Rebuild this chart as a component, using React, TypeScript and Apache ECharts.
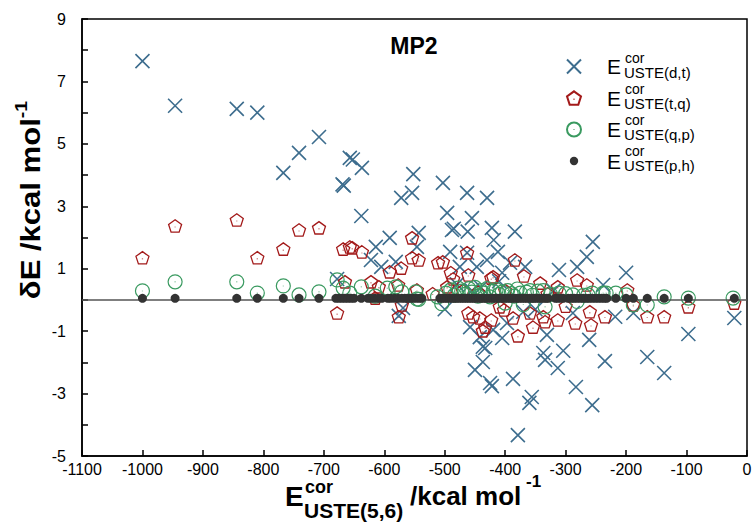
import React, { useEffect, useRef } from "react";
import * as echarts from "echarts";

const X_MIN = -1100;
const X_MAX = 0;
const X_STEP = 100;
const Y_MIN = -5;
const Y_MAX = 9;
const Y_STEP = 1;

const seriesNames = ["dt", "tq", "qp", "ph"];
const subLabels = ["USTE(d,t)", "USTE(t,q)", "USTE(q,p)", "USTE(p,h)"];

// E_USTE(d,t) corrections
const dtPoints: number[][] = [
  [-1000, 7.65], [-946, 6.22], [-844, 6.12], [-810, 6.0], [-767, 4.07], [-741, 4.71],
  [-708, 5.22], [-657, 4.55], [-652, 4.5], [-637, 4.23], [-669, 3.7], [-667, 3.66],
  [-638, 2.69], [-552, 4.03], [-554, 3.43], [-572, 3.27], [-503, 3.75], [-463, 3.43],
  [-430, 3.27], [-496, 2.79], [-455, 2.62], [-488, 2.24], [-485, 2.28], [-462, 2.19],
  [-422, 2.31], [-384, 2.19], [-419, 1.92], [-543, 2.15], [-591, 1.99], [-614, 1.7],
  [-546, 1.7], [-491, 1.54], [-412, 1.54], [-463, 1.51], [-430, 1.28], [-622, 1.28],
  [-605, 1.06], [-581, 1.22], [-678, 0.67], [-576, -0.51], [-569, -0.26], [-255, 1.86],
  [-265, 1.38], [-311, 0.96], [-281, 1.06], [-238, 0.48], [-200, 0.87], [-367, 1.06],
  [-475, 1.06], [-447, 1.06], [-405, 0.87], [-392, 1.19], [-458, -0.87], [-442, -1.19],
  [-437, -1.5], [-433, -1.54], [-437, -1.99], [-450, -2.24], [-425, -2.66], [-422, -2.76],
  [-387, -2.53], [-356, -3.11], [-360, -3.3], [-379, -4.33], [-405, -1.22], [-397, -0.74],
  [-420, -0.96], [-337, -1.7], [-334, -1.92], [-331, -1.12], [-304, -1.63], [-313, -2.18],
  [-283, -2.79], [-256, -3.37], [-261, -1.28], [-235, -1.96], [-288, -0.42], [-218, -0.54],
  [-370, -0.38], [-165, -1.83], [-137, -2.34], [-97, -1.09], [-21, -0.58], [-188, -0.42],
  [-480, 0.5], [-440, 0.4], [-350, -0.3], [-320, 0.3], [-410, 0.6], [-500, -0.3], [-455, 0.3],
];

// E_USTE(t,q) corrections
const tqPoints: number[][] = [
  [-1000, 1.35], [-946, 2.37], [-844, 2.56], [-810, 1.35], [-767, 1.63], [-741, 2.24],
  [-708, 2.31], [-668, 1.63], [-657, 1.7], [-653, 1.67], [-637, 1.54], [-554, 1.99],
  [-554, 1.35], [-543, 1.28], [-591, 0.9], [-572, 1.02], [-511, 1.19], [-665, 0.58],
  [-622, 0.58], [-678, -0.42], [-609, 0.42], [-577, 0.48], [-546, 0.32], [-571, -0.16],
  [-576, -0.54], [-615, 0.06], [-503, 1.22], [-490, 0.87], [-486, 0.67], [-463, 1.51],
  [-461, 0.8], [-496, 0.42], [-420, 0.74], [-423, 0.7], [-384, 1.28], [-369, 0.77],
  [-461, -0.42], [-453, -0.54], [-442, -0.58], [-423, -0.64], [-433, -0.87], [-437, -0.99],
  [-387, -0.58], [-379, -1.15], [-354, -0.87], [-402, -0.32], [-409, -0.22], [-359, -0.42],
  [-334, -0.7], [-337, -0.54], [-313, 0.42], [-281, 0.64], [-265, 0.48], [-342, 0.54],
  [-313, -0.64], [-284, -0.74], [-260, -0.38], [-258, -0.8], [-235, -0.54], [-198, 0.32],
  [-165, -0.54], [-137, -0.54], [-97, -0.22], [-21, -0.1], [-188, -0.16], [-470, 0.3],
  [-445, 0.25], [-400, 0.3], [-330, 0.2], [-300, -0.2], [-520, 0.2],
];

// E_USTE(q,p) corrections
const qpPoints: number[][] = [
  [-1000, 0.29], [-946, 0.58], [-844, 0.58], [-810, 0.22], [-767, 0.45], [-741, 0.16],
  [-708, 0.26], [-678, 0.64], [-668, 0.38], [-657, 0.22], [-638, 0.42], [-615, 0.12],
  [-595, 0.38], [-581, 0.42], [-571, 0.26], [-548, 0.26], [-546, 0.03], [-543, 0.02],
  [-512, 0.1], [-505, -0.12], [-498, 0.22], [-490, 0.32], [-484, 0.15], [-478, 0.38],
  [-472, 0.28], [-466, 0.18], [-460, 0.36], [-455, 0.25], [-450, 0.4], [-445, 0.12],
  [-440, 0.3], [-436, 0.22], [-430, 0.36], [-425, 0.1], [-420, 0.28], [-415, 0.33],
  [-410, 0.18], [-405, 0.25], [-400, -0.1], [-396, 0.3], [-390, 0.2], [-385, 0.12],
  [-380, 0.35], [-375, 0.22], [-370, -0.15], [-365, 0.25], [-359, 0.3], [-355, 0.15],
  [-346, 0.28], [-337, 0.3], [-334, -0.22], [-325, 0.18], [-311, 0.22], [-300, 0.2],
  [-288, 0.16], [-281, -0.05], [-270, 0.15], [-263, 0.16], [-256, 0.22], [-238, 0.22],
  [-233, 0.22], [-217, 0.22], [-200, 0.16], [-188, -0.16], [-165, -0.16], [-137, 0.1],
  [-97, 0.06], [-23, 0.06],
];

// E_USTE(p,h) corrections
const phX: number[] = [
  -1000, -946, -844, -810, -767, -741, -708, -680, -675, -670, -665, -660, -655, -650,
  -638, -627, -622, -616, -610, -604, -594, -589, -583, -577, -571, -566, -562, -557,
  -552, -547, -542, -538, -508, -504, -500, -496, -492, -488, -484, -480, -476, -472,
  -468, -464, -460, -456, -452, -448, -444, -440, -436, -432, -428, -424, -420, -416,
  -412, -408, -404, -400, -396, -392, -388, -384, -380, -376, -372, -368, -364, -360,
  -356, -352, -348, -344, -340, -336, -332, -329, -317, -313, -308, -304, -296, -291,
  -286, -281, -276, -271, -266, -261, -256, -251, -246, -241, -236, -232, -217, -200,
  -188, -165, -137, -97, -21,
];
const phY: number[] = phX.map(() => 0.05);
const phPoints: number[][] = phX.map((x, i) => [x, phY[i]]);

const COLORS = {
  dt: "#3d6d8e",
  tq: "#a31a1a",
  qp: "#3a9a60",
  ph: "#333333",
};

const FONT = "'Liberation Sans', Arial, sans-serif";

const crossPath = "path://M0,0L10,10M10,0L0,10";
const pentPath =
  "path://M0,-1L0.951,-0.309L0.588,0.809L-0.588,0.809L-0.951,-0.309ZM0,0.02L0,0.1";
const ringPath =
  "path://M0,-1A1,1 0 1,1 0,1A1,1 0 1,1 0,-1ZM0,-0.03L0,0.05";
const dotLegendPath =
  "path://M-1,-1M1,1M0,-0.6A0.6,0.6 0 1,1 0,0.6A0.6,0.6 0 1,1 0,-0.6Z";

export default function App() {
  const ref = useRef<HTMLDivElement>(null);

  useEffect(() => {
    if (!ref.current) return;
    const chart = echarts.init(ref.current, null, { renderer: "svg" });

    const rows = [67, 98, 129, 160];
    const legendTexts: any[] = [];
    rows.forEach((c, i) => {
      legendTexts.push({
        type: "text",
        x: 625,
        y: c - 9.5,
        style: {
          text: "cor",
          font: `14px ${FONT}`,
          fill: "#000",
          align: "left",
          verticalAlign: "middle",
        },
      });
      legendTexts.push({
        type: "text",
        x: 624,
        y: c + 5.5,
        style: {
          text: subLabels[i],
          font: `15px ${FONT}`,
          fill: "#000",
          align: "left",
          verticalAlign: "middle",
        },
      });
    });

    const option: any = {
      animation: false,
      backgroundColor: "#fff",
      grid: {
        left: 82,
        right: 9,
        top: 19,
        bottom: 67,
        show: true,
        borderColor: "#000",
        borderWidth: 1.5,
        backgroundColor: "transparent",
      },
      xAxis: {
        type: "value",
        min: X_MIN,
        max: X_MAX,
        interval: X_STEP,
        axisLine: { show: true, onZero: false, lineStyle: { color: "#000", width: 1.5 } },
        axisTick: { show: true, inside: true, length: 6, lineStyle: { color: "#000", width: 1.5 } },
        axisLabel: {
          fontSize: 16,
          color: "#000",
          fontFamily: FONT,
          margin: 5,
          formatter: (v: number) => String(v),
        },
        splitLine: { show: false },
      },
      yAxis: {
        type: "value",
        min: Y_MIN,
        max: Y_MAX,
        interval: Y_STEP,
        axisLine: { show: true, onZero: false, lineStyle: { color: "#000", width: 1.5 } },
        axisTick: { show: true, inside: true, length: 6, lineStyle: { color: "#000", width: 1.5 } },
        axisLabel: {
          fontSize: 16,
          color: "#000",
          fontFamily: FONT,
          margin: 16,
          formatter: (v: number) => (Math.abs(v) % 2 === 1 ? String(v) : ""),
        },
        splitLine: { show: false },
      },
      legend: {
        orient: "vertical",
        left: 561,
        top: 51,
        padding: 5,
        itemWidth: 14,
        itemHeight: 14,
        itemGap: 10.5,
        data: [
          { name: "dt" },
          { name: "tq" },
          { name: "qp" },
          { name: "ph", icon: dotLegendPath, itemStyle: { color: COLORS.ph, borderWidth: 0 } },
        ],
        formatter: () => "{e|E}",
        textStyle: {
          rich: {
            e: {
              fontSize: 21,
              fontFamily: FONT,
              color: "#000",
              padding: [0, 0, 0, 21],
            },
          },
        },
      },
      graphic: [
        {
          type: "text",
          x: 414,
          y: 46,
          style: {
            text: "MP2",
            font: `bold 23px ${FONT}`,
            fill: "#000",
            align: "center",
            verticalAlign: "middle",
          },
        },
        ...legendTexts,
        // x-axis title
        {
          type: "group",
          children: [
            {
              type: "text",
              x: 285,
              y: 496,
              style: { text: "E", font: `bold 28px ${FONT}`, fill: "#000", verticalAlign: "middle" },
            },
            {
              type: "text",
              x: 305,
              y: 487,
              style: { text: "cor", font: `bold 18px ${FONT}`, fill: "#000", verticalAlign: "middle" },
            },
            {
              type: "text",
              x: 304,
              y: 510,
              style: { text: "USTE(5,6)", font: `bold 21px ${FONT}`, fill: "#000", verticalAlign: "middle" },
            },
            {
              type: "text",
              x: 410,
              y: 496,
              style: { text: "/kcal mol", font: `bold 26px ${FONT}`, fill: "#000", verticalAlign: "middle" },
            },
            {
              type: "text",
              x: 526,
              y: 481,
              style: { text: "-1", font: `bold 17px ${FONT}`, fill: "#000", verticalAlign: "middle" },
            },
          ],
        },
        // y-axis title
        {
          type: "text",
          x: 28,
          y: 200,
          rotation: Math.PI / 2,
          scaleX: 1.15,
          style: {
            text: "{a|δE /kcal mol}{s|-1}",
            align: "center",
            verticalAlign: "middle",
            rich: {
              a: { font: `bold 27px ${FONT}`, fill: "#000", lineHeight: 32, verticalAlign: "bottom" },
              s: { font: `bold 17px ${FONT}`, fill: "#000", lineHeight: 32, verticalAlign: "top" },
            },
          },
        },
      ],
      series: [
        {
          type: "scatter",
          name: "zero",
          data: [],
          z: 1,
          silent: true,
          markLine: {
            silent: true,
            symbol: "none",
            label: { show: false },
            lineStyle: { color: "#555", width: 1.5, type: "solid" },
            data: [{ yAxis: 0 }],
          },
        },
        {
          type: "scatter",
          name: "dt",
          data: dtPoints,
          z: 2,
          symbol: crossPath,
          symbolSize: 14,
          symbolKeepAspect: true,
          itemStyle: { color: "rgba(0,0,0,0)", borderColor: COLORS.dt, borderWidth: 1.6, opacity: 1 },
        },
        {
          type: "scatter",
          name: "tq",
          data: tqPoints,
          z: 3,
          symbol: pentPath,
          symbolSize: 13,
          symbolKeepAspect: true,
          itemStyle: { color: "rgba(0,0,0,0)", borderColor: COLORS.tq, borderWidth: 1.3, opacity: 1 },
        },
        {
          type: "scatter",
          name: "qp",
          data: qpPoints,
          z: 4,
          symbol: ringPath,
          symbolSize: 14,
          symbolKeepAspect: true,
          itemStyle: { color: "rgba(0,0,0,0)", borderColor: COLORS.qp, borderWidth: 1.2, opacity: 1 },
        },
        {
          type: "scatter",
          name: "ph",
          data: phPoints,
          z: 5,
          symbol: "circle",
          symbolSize: 9,
          itemStyle: { color: COLORS.ph, opacity: 1 },
        },
      ],
    };

    chart.setOption(option);
    return () => chart.dispose();
  }, []);

  return <div ref={ref} style={{ width: 756, height: 523, position: "absolute", left: 0, top: 0 }} />;
}
